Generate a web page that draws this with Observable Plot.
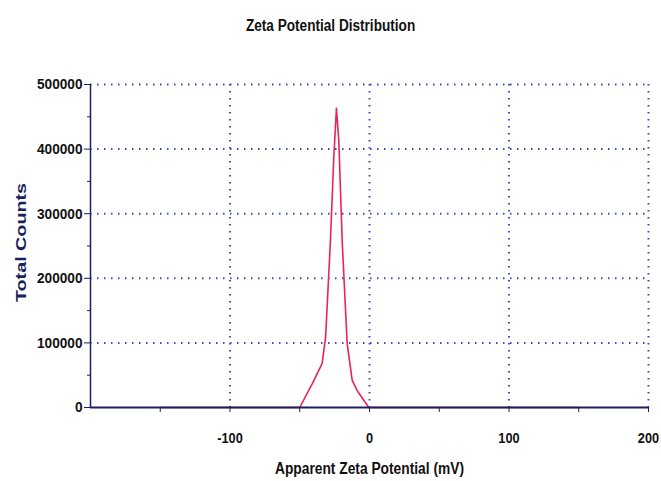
<!DOCTYPE html>
<html>
<head>
<meta charset="utf-8">
<script src="https://cdn.jsdelivr.net/npm/d3@7"></script>
<script src="https://cdn.jsdelivr.net/npm/@observablehq/plot@0.6"></script>
<style>
  body { margin: 0; background: #fff; }
  #title { height: 50px; line-height: 52px; text-align: center; font-family: "Liberation Sans", Arial, sans-serif; font-weight: bold; font-size: 16px; color: #111; width: 661px; }
  #title span { display: inline-block; transform: scaleX(0.85); }
  svg { display: block; }
</style>
</head>
<body>
<div id="title"><span>Zeta Potential Distribution</span></div>
<div id="chart"></div>
<script>
const potential = [-150, -50, -41, -34, -31.5, -28, -25.6, -23.7, -22, -19.5, -16, -12.4, -8.8, -0.5, 150];
const counts    = [0, 0, 37000, 68000, 108000, 258000, 387000, 463000, 413000, 254000, 99000, 42000, 26000, 0, 0];
const xLabelTicks = [-100, 0, 100, 200];
const xMinorTicks = [-150, -100, -50, 0, 50, 100, 150, 200];
const yMajorTicks = [0, 100000, 200000, 300000, 400000, 500000];
const yMinorTicks = [50000, 150000, 250000, 350000, 450000];
const gridX = [-100, 0, 100, 200];
const gridY = [100000, 200000, 300000, 400000, 500000];

const data = potential.map((x, i) => ({x, y: counts[i]}));
const navy = "#1b1f5e";
const gridColor = "#3a4fb0";

const chart = Plot.plot({
  width: 661,
  height: 431,
  marginTop: 34,
  marginBottom: 74,
  marginLeft: 90,
  marginRight: 13,
  style: {fontFamily: '"Liberation Sans", Arial, sans-serif', fontSize: "15.5px", color: "#111", background: "#fff"},
  x: {domain: [-200, 200]},
  y: {domain: [0, 500000]},
  marks: [
    Plot.gridX(gridX, {stroke: gridColor, strokeOpacity: 1, strokeWidth: 2, strokeDasharray: "1.5,5.5"}),
    Plot.gridY(gridY, {stroke: gridColor, strokeOpacity: 1, strokeWidth: 2, strokeDasharray: "1.5,5.5"}),
    Plot.axisX({ticks: xMinorTicks, tickSize: 5, tickFormat: () => "", stroke: navy, label: null}),
    Plot.axisX({ticks: xLabelTicks, tickSize: 0, tickPadding: 25, tickFormat: d => String(d), fontWeight: "bold", fill: "#111", fontSize: 14.5,
      label: "Apparent Zeta Potential (mV)", labelAnchor: "center", labelArrow: "none", labelOffset: 66}),
    Plot.axisY({ticks: yMinorTicks, tickSize: 3, tickFormat: () => "", stroke: navy, label: null}),
    Plot.axisY({ticks: yMajorTicks, tickSize: 6, tickPadding: 2, tickFormat: d => String(d), stroke: navy, fontWeight: "bold", fill: "#111", label: null}),
    Plot.ruleX([-200], {stroke: navy, strokeWidth: 1.5}),
    Plot.line(data, {x: "x", y: "y", stroke: "#e8245a", strokeWidth: 1.6}),
    Plot.ruleY([0], {stroke: navy, strokeWidth: 2})
  ]
});
document.getElementById("chart").appendChild(chart);

const svg = d3.select(chart);
// condense tick labels like the narrow font in the reference
svg.selectAll('g[aria-label="y-axis tick label"] text, g[aria-label="x-axis tick label"] text')
  .each(function() {
    const w = this.getComputedTextLength();
    if (w > 0) {
      this.setAttribute("textLength", (w * 0.88).toFixed(1));
      this.setAttribute("lengthAdjust", "spacingAndGlyphs");
    }
  });
// condense the x-axis title like the reference
svg.selectAll('g[aria-label="x-axis label"] text')
  .attr("font-size", "16px")
  .attr("font-weight", "bold")
  .attr("textLength", 189)
  .attr("lengthAdjust", "spacingAndGlyphs");

// Y axis title
svg.append("text")
  .attr("transform", "translate(26,192.5) rotate(-90)")
  .attr("text-anchor", "middle")
  .attr("font-family", '"Liberation Sans", Arial, sans-serif')
  .attr("font-weight", "bold")
  .attr("font-size", "15px")
  .attr("textLength", 119)
  .attr("lengthAdjust", "spacingAndGlyphs")
  .attr("fill", navy)
  .text("Total Counts");
</script>
</body>
</html>
